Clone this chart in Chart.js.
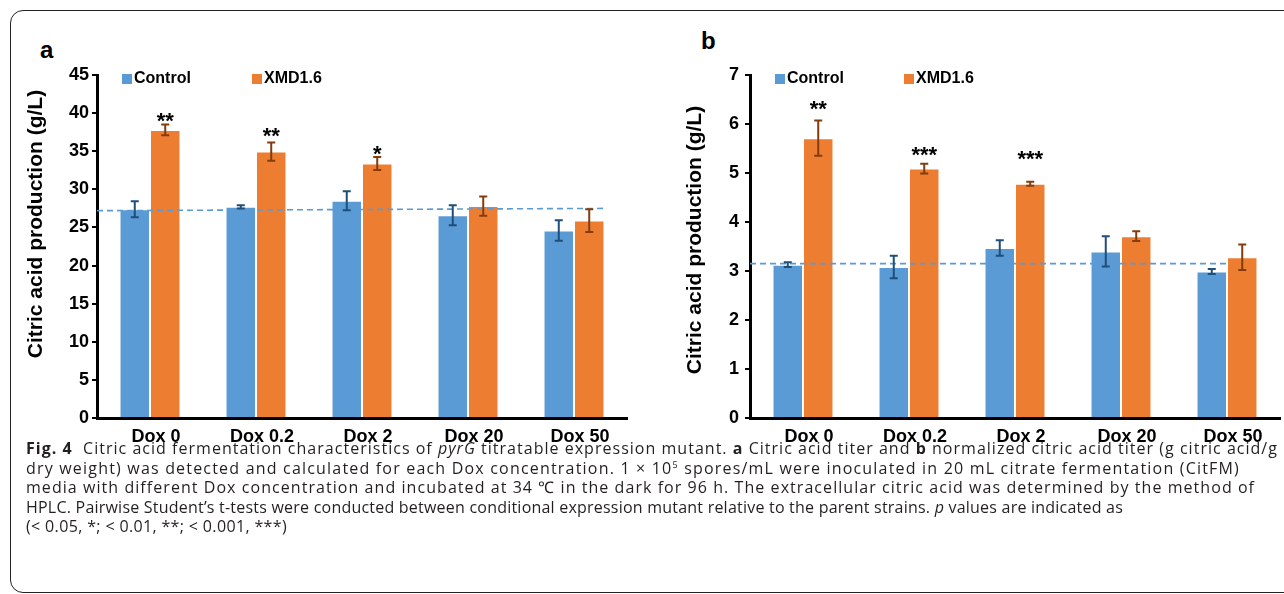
<!DOCTYPE html>
<html>
<head>
<meta charset="utf-8">
<script src="https://cdn.jsdelivr.net/npm/chart.js"></script>
<style>
    body { margin: 0; width: 1284px; height: 594px; overflow: hidden; background: #fff; position: relative; font-family: "Liberation Sans", Arial, sans-serif; }
    #frame { position: absolute; left: 10px; top: 10px; width: 1300px; height: 581px; border: 1.5px solid #222; border-radius: 13px; }
    .panel { position: absolute; top: 0; height: 460px; }
    #pa { left: 0; width: 640px; }
    #pb { left: 640px; width: 644px; }
    .tag { position: absolute; font-weight: bold; font-size: 24px; color: #000; }
    #caption { position: absolute; left: 26px; top: 439px; font-family: "Open Sans", Lato, sans-serif; font-size: 16px; line-height: 19.5px; color: #231f20; white-space: nowrap; }
    #caption span { display: inline-block; }
    #caption sup { font-size: 9px; line-height: 0; }
</style>
</head>
<body>
<div id="frame"></div>
<div class="tag" style="left:40px;top:36px;">a</div>
<div class="tag" style="left:701px;top:27px;">b</div>
<div class="panel" id="pa"><canvas id="titer"></canvas></div>
<div class="panel" id="pb"><canvas id="normalized"></canvas></div>
<div id="caption">
<span data-w="1252"><b>Fig. 4</b>&nbsp; Citric acid fermentation characteristics of <i>pyrG</i> titratable expression mutant. <b>a</b> Citric acid titer and <b>b</b> normalized citric acid titer (g citric acid/g</span><br>
<span data-w="1214">dry weight) was detected and calculated for each Dox concentration. 1 × 10<sup>5</sup> spores/mL were inoculated in 20 mL citrate fermentation (CitFM)</span><br>
<span data-w="1229">media with different Dox concentration and incubated at 34 ℃ in the dark for 96 h. The extracellular citric acid was determined by the method of</span><br>
<span data-w="1097">HPLC. Pairwise Student’s t-tests were conducted between conditional expression mutant relative to the parent strains. <i>p</i> values are indicated as</span><br>
<span data-w="261">(&lt; 0.05, *; &lt; 0.01, **; &lt; 0.001, ***)</span>
</div>
<script>
    "use strict";

    // Data
    var doses = ["Dox 0", "Dox 0.2", "Dox 2", "Dox 20", "Dox 50"];
    var seriesNames = ["Control", "XMD1.6"];

    var titerControl = [27.4, 27.7, 28.5, 26.6, 24.6];
    var titerControlErr = [1.05, 0.2, 1.25, 1.3, 1.35];
    var titerXmd = [37.8, 34.95, 33.4, 27.8, 25.9];
    var titerXmdErr = [0.7, 1.2, 0.85, 1.25, 1.5];
    var titerStars = ["**", "**", "*", "", ""];
    var titerStarLevel = [39.8, 37.8, 35.4, 0, 0];
    var titerBaseline = [27.2, 27.5];
    var titerTicks = [0, 5, 10, 15, 20, 25, 30, 35, 40, 45];

    var normControl = [3.13, 3.08, 3.47, 3.40, 2.99];
    var normControlErr = [0.05, 0.23, 0.16, 0.31, 0.05];
    var normXmd = [5.71, 5.09, 4.78, 3.71, 3.28];
    var normXmdErr = [0.36, 0.1, 0.04, 0.1, 0.26];
    var normStars = ["**", "***", "***", "", ""];
    var normStarLevel = [6.43, 5.49, 5.41, 0, 0];
    var normBaseline = [3.15, 3.15];
    var normTicks = [0, 1, 2, 3, 4, 5, 6, 7];

    var yTitle = "Citric acid production (g/L)";

    // Caption: spread each line to the width it has in the figure
    document.querySelectorAll("#caption span").forEach(function (line) {
        var target = +line.getAttribute("data-w");
        var gap = (target - line.getBoundingClientRect().width) / line.textContent.length;
        line.style.letterSpacing = gap.toFixed(3) + "px";
    });

    // Error bars drawn on top of the bars
    var errorBars = {
        id: "errorBars",
        afterDatasetsDraw: function (chart) {
            var ctx = chart.ctx, y = chart.scales.y;
            chart.data.datasets.forEach(function (ds, i) {
                if (!ds.errors) return;
                chart.getDatasetMeta(i).data.forEach(function (bar, j) {
                    var v = ds.data[j].y;
                    var top = y.getPixelForValue(v + ds.errors[j]);
                    var bot = y.getPixelForValue(v - ds.errors[j]);
                    ctx.save();
                    ctx.strokeStyle = ds.errorColor;
                    ctx.lineWidth = 2;
                    ctx.beginPath();
                    ctx.moveTo(bar.x, top); ctx.lineTo(bar.x, bot);
                    ctx.moveTo(bar.x - 4, top); ctx.lineTo(bar.x + 4, top);
                    ctx.moveTo(bar.x - 4, bot); ctx.lineTo(bar.x + 4, bot);
                    ctx.stroke();
                    ctx.restore();
                });
            });
        }
    };

    // Significance stars, legend and rotated y title
    var extras = {
        id: "extras",
        afterDraw: function (chart, args, opts) {
            var ctx = chart.ctx, y = chart.scales.y, area = chart.chartArea;
            var bars = chart.getDatasetMeta(1).data;
            ctx.save();
            ctx.fillStyle = "#000";
            ctx.textAlign = "center";
            ctx.textBaseline = "alphabetic";
            ctx.font = "bold 22px 'Liberation Sans', Arial, sans-serif";
            opts.stars.forEach(function (s, j) {
                if (!s) return;
                ctx.fillText(s, bars[j].x, y.getPixelForValue(opts.starLevel[j]) + 13);
            });

            // legend
            ctx.font = "bold 16px 'Liberation Sans', Arial, sans-serif";
            ctx.textAlign = "left";
            ctx.textBaseline = "middle";
            chart.data.datasets.slice(0, 2).forEach(function (ds, i) {
                var lx = area.left + opts.legendX[i];
                ctx.fillStyle = ds.backgroundColor;
                ctx.fillRect(lx, 74, 10, 10);
                ctx.fillStyle = "#000";
                ctx.fillText(ds.label, lx + 12, 79);
            });

            // y axis title
            ctx.font = "bold 21px 'Liberation Sans', Arial, sans-serif";
            ctx.textAlign = "center";
            ctx.translate(opts.titleX, opts.titleY);
            ctx.rotate(-Math.PI / 2);
            ctx.fillText(yTitle, 0, 0);
            ctx.restore();
        }
    };

    function points(values) {
        return values.map(function (v, i) { return { x: i, y: v }; });
    }

    function makeChart(id, o) {
        var ctx = document.getElementById(id).getContext("2d");
        return new Chart(ctx, {
            type: "bar",
            data: {
                datasets: [{
                        label: seriesNames[0],
                        data: points(o.control),
                        errors: o.controlErr,
                        errorColor: "#1f4e79",
                        backgroundColor: "#5b9bd5",
                        borderColor: "rgba(255,255,255,0.55)",
                        borderWidth: 1,
                        order: 1
                    },
                    {
                        label: seriesNames[1],
                        data: points(o.xmd),
                        errors: o.xmdErr,
                        errorColor: "#843c0c",
                        backgroundColor: "#ed7d31",
                        borderColor: "rgba(255,255,255,0.55)",
                        borderWidth: 1,
                        order: 1
                    },
                    {
                        // dashed reference level of the control
                        type: "line",
                        label: "baseline",
                        data: [{ x: -0.5, y: o.baseline[0] }, { x: o.lineEnd, y: o.baseline[1] }],
                        borderColor: "#5b9bd5",
                        borderWidth: 1.6,
                        borderDash: [6, 4],
                        pointRadius: 0,
                        fill: false,
                        order: 0
                    }
                ]
            },
            options: {
                responsive: true,
                maintainAspectRatio: false,
                animation: false,
                layout: { padding: { top: 75, right: o.padRight, left: 0, bottom: 0 } },
                datasets: { bar: { barPercentage: 1.0, categoryPercentage: 0.575 } },
                plugins: {
                    legend: { display: false },
                    tooltip: { enabled: false },
                    extras: o.extras
                },
                scales: {
                    x: {
                        type: "linear",
                        offset: false,
                        min: -0.5,
                        max: doses.length - 0.5,
                        afterBuildTicks: function (s) {
                            s.ticks = doses.map(function (d, i) { return { value: i }; });
                        },
                        grid: { display: false },
                        border: { color: "#000", width: 3 },
                        ticks: {
                            color: "#000", font: { size: 18, weight: "bold" }, padding: 0, labelOffset: 6,
                            autoSkip: false, maxRotation: 0,
                            callback: function (v) { return doses[v]; }
                        },
                        afterFit: function (s) { s.height = 42; }
                    },
                    y: {
                        min: 0,
                        max: o.ticks[o.ticks.length - 1],
                        afterBuildTicks: function (s) {
                            s.ticks = o.ticks.map(function (v) { return { value: v }; });
                        },
                        grid: { drawOnChartArea: false, drawTicks: true, tickLength: 5, color: "#000", lineWidth: 2 },
                        border: { color: "#000", width: 3 },
                        ticks: { color: "#000", font: { size: 18, weight: "bold" }, padding: o.tickPad },
                        afterFit: function (s) { s.width = o.axisLeft; }
                    }
                }
            },
            plugins: [errorBars, extras]
        });
    }

    makeChart("titer", {
        control: titerControl, controlErr: titerControlErr,
        xmd: titerXmd, xmdErr: titerXmdErr,
        baseline: titerBaseline, lineEnd: 4.3, ticks: titerTicks,
        axisLeft: 97, padRight: 13, tickPad: 3,
        extras: { stars: titerStars, starLevel: titerStarLevel, legendX: [25, 155], titleX: 36, titleY: 224 }
    });

    makeChart("normalized", {
        control: normControl, controlErr: normControlErr,
        xmd: normXmd, xmdErr: normXmdErr,
        baseline: normBaseline, lineEnd: 4.0, ticks: normTicks,
        axisLeft: 110, padRight: 4, tickPad: 6,
        extras: { stars: normStars, starLevel: normStarLevel, legendX: [25, 154], titleX: 55, titleY: 240 }
    });
</script>
</body>
</html>
